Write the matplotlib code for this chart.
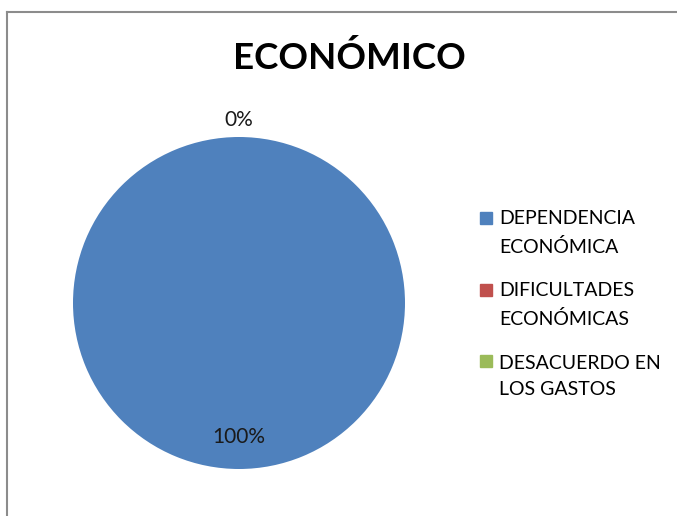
import numpy as np
import matplotlib.pyplot as plt
from matplotlib.lines import Line2D
from matplotlib.legend_handler import HandlerLine2D

categorias = ["DEPENDENCIA\nECONÓMICA", "DIFICULTADES\nECONÓMICAS", "DESACUERDO EN\nLOS GASTOS"]
valores = [100, 0, 0]
colores = ["#4F81BD", "#C0504D", "#9BBB59"]
titulo = "ECONÓMICO"

plt.rcParams['font.family'] = ['Lato', 'DejaVu Sans']

W, H = 677, 516
fig = plt.figure(figsize=(W / 100, H / 100), dpi=100)

# marco del grafico (solo arriba e izquierda visibles)
fig.add_artist(Line2D([7 / W, 7 / W], [0, 1 - 12 / H], color="#8c8c8c", lw=1.5))
fig.add_artist(Line2D([7 / W, 1], [1 - 12 / H, 1 - 12 / H], color="#8c8c8c", lw=1.5))

cx, cy, r = 239, 303, 166
ax = fig.add_axes([(cx - r) / W, (H - cy - r) / H, 2 * r / W, 2 * r / H])
wedges, _ = ax.pie(valores, colors=colores, startangle=90, counterclock=False, radius=1)
ax.set_xlim(-1, 1)
ax.set_ylim(-1, 1)
ax.set_aspect('equal')
ax.axis('off')

total = sum(valores)
usados = set()
for w, v in zip(wedges, valores):
    pct = f"{v / total * 100:.0f}%"
    ang = np.deg2rad((w.theta1 + w.theta2) / 2)
    if v / total > 0.5:
        d = 0.81
    else:
        d = 1.1
    key = (round(ang, 3), d)
    if key in usados:
        continue
    usados.add(key)
    ax.text(d * np.cos(ang), d * np.sin(ang), pct, ha='center', va='center',
            fontsize=15, color="#1a1a1a", clip_on=False)

fig.text(349 / W, 1 - 58 / H, titulo, ha='center', va='center',
         fontsize=26.5, fontweight='bold', color="black")


# el cuadrito va a la altura de la primera linea, como en Excel
class HandlerArriba(HandlerLine2D):
    def create_artists(self, *args, **kwargs):
        arts = super().create_artists(*args, **kwargs)
        for a in arts:
            a.set_ydata(np.asarray(a.get_ydata()) + 11)
        return arts


handles = [Line2D([], [], marker='s', linestyle='none', markersize=8,
                  markerfacecolor=c, markeredgecolor=c) for c in colores]
leg = fig.legend(handles, categorias, loc='upper left', bbox_to_anchor=(478 / W, 1 - 210 / H),
                 frameon=False, fontsize=14, handlelength=0.8, handletextpad=0.3,
                 labelspacing=1.38, borderaxespad=0, borderpad=0,
                 handler_map={Line2D: HandlerArriba()})
for t in leg.get_texts():
    t.set_linespacing(1.7)

fig.savefig("out.png", dpi=100)
